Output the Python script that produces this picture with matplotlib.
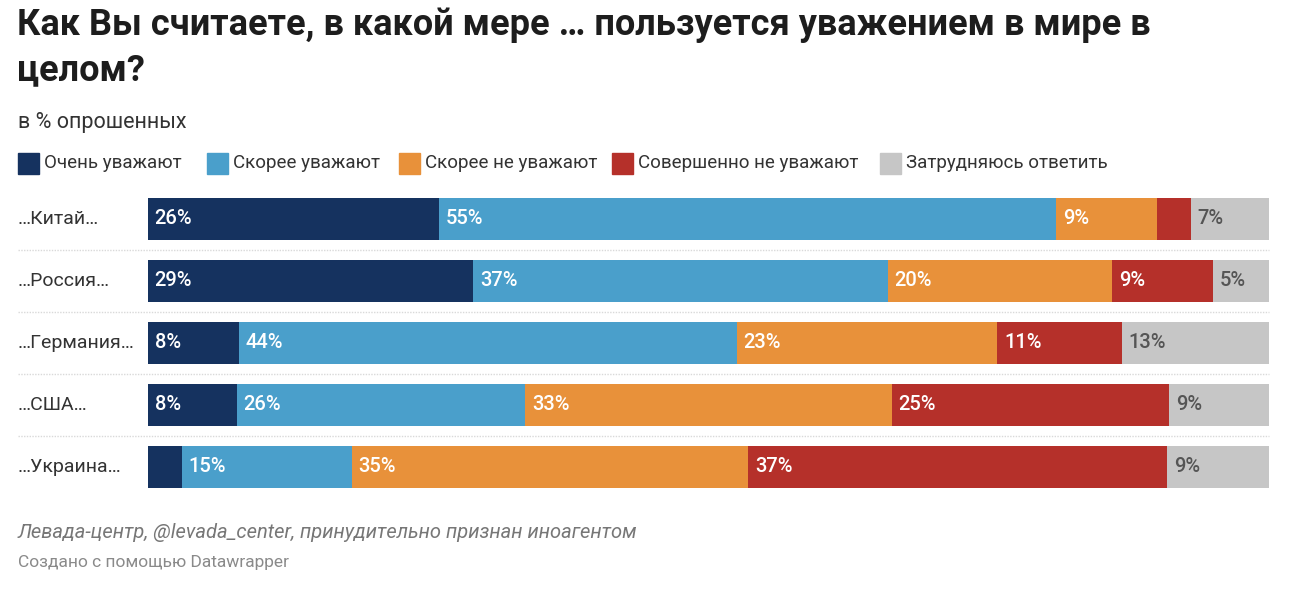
import matplotlib
matplotlib.use('Agg')
import matplotlib.pyplot as plt
from matplotlib.patches import Rectangle

plt.rcParams['font.family'] = ['Roboto', 'DejaVu Sans']

countries = ['…Китай…', '…Россия…', '…Германия…', '…США…', '…Украина…']
categories = ['Очень уважают', 'Скорее уважают', 'Скорее не уважают',
              'Совершенно не уважают', 'Затрудняюсь ответить']
very = [26, 29, 8, 8, 3]
rather = [55, 37, 44, 26, 15]
rather_not = [9, 20, 23, 33, 35]
not_at_all = [3, 9, 11, 25, 37]
hard_to_say = [7, 5, 13, 9, 9]
# segments without a printed label in the original
hidden = {(0, 3), (4, 0)}

colors = ['#15325f', '#4a9fcb', '#e8913a', '#b5302a', '#c6c6c6']
label_colors = ['white', 'white', 'white', 'white', '#555555']

W, H = 1297, 594
fig = plt.figure(figsize=(W / 100, H / 100), dpi=100)

def px(x, y):
    return x / W, 1 - y / H

# titles
fig.text(*px(17, 25), 'Как Вы считаете, в какой мере … пользуется уважением в мире в',
         fontsize=26, fontweight='bold', color='#1d1d1d', va='center')
fig.text(*px(17, 70), 'целом?', fontsize=26, fontweight='bold', color='#1d1d1d', va='center')
fig.text(*px(18, 122), 'в % опрошенных', fontsize=15.5, color='#333333', va='center')

# legend
leg_x = [18, 207, 399, 612, 880]
for lx, cat, c in zip(leg_x, categories, colors):
    fig.patches.append(Rectangle(px(lx, 174), 21 / W, 21 / H, color=c,
                                 transform=fig.transFigure, figure=fig))
    fig.text(*px(lx + 26, 163), cat, fontsize=13.5, color='#333333', va='center')

# bars
ax = fig.add_axes([148 / W, 1 - 498 / H, 1121 / W, 310 / H])
series = [very, rather, rather_not, not_at_all, hard_to_say]
for i, name in enumerate(countries):
    vals = [s[i] for s in series]
    total = sum(vals)
    left = 0
    for j, v in enumerate(vals):
        w = v / total * 100
        ax.barh(i, w, left=left, height=0.69, color=colors[j], linewidth=0)
        if (i, j) not in hidden:
            ax.text(left + 0.6, i, f'{v}%', color=label_colors[j], fontsize=14.5,
                    fontweight='medium', va='center', ha='left')
        left += w
    ax.text(-11.6, i, name, fontsize=14, color='#333333', va='center', ha='left')

for k in range(len(countries) - 1):
    ax.plot([-11.6, 100], [k + 0.5, k + 0.5], color='#d9d9d9', lw=1,
            linestyle=(0, (1, 1)), clip_on=False)

ax.set_xlim(0, 100)
ax.set_ylim(len(countries) - 0.5, -0.5)
ax.axis('off')

# footer
fig.text(*px(18, 533), 'Левада-центр, @levada_center, принудительно признан иноагентом',
         fontsize=14.5, fontstyle='italic', color='#777777', va='center')
fig.text(*px(18, 563), 'Создано с помощью Datawrapper', fontsize=12.5, color='#8a8a8a', va='center')

fig.savefig('out.png', dpi=100, facecolor='white')
